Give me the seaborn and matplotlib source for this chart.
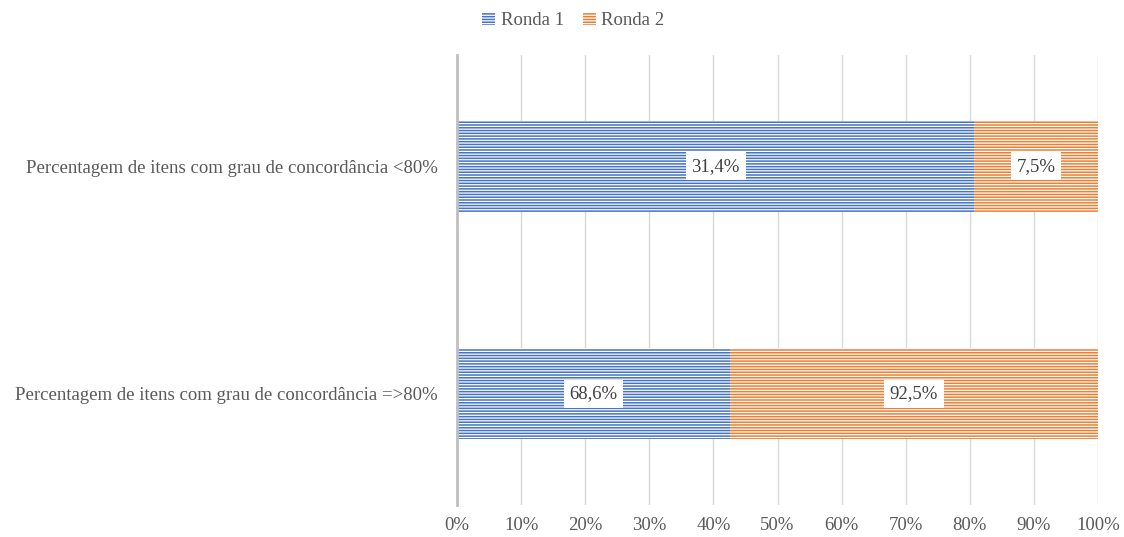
import numpy as np
import pandas as pd
import matplotlib
matplotlib.use("Agg")
import matplotlib.pyplot as plt
from matplotlib.patches import Patch
import seaborn as sns

# data (data labels show the raw values; bars are stacked to 100%)
categories = [
    "Percentagem de itens com grau de concordância <80%",
    "Percentagem de itens com grau de concordância =>80%",
]
ronda1 = [31.4, 68.6]
ronda2 = [7.5, 92.5]
series_names = ["Ronda 1", "Ronda 2"]
xticks = [0, 10, 20, 30, 40, 50, 60, 70, 80, 90, 100]

blue = "#4472C4"
orange = "#ED7D31"

sns.set_theme(style="white")
plt.rcParams["font.family"] = ["Liberation Serif", "DejaVu Serif"]
plt.rcParams["hatch.linewidth"] = 0.9

r1 = np.array(ronda1)
r2 = np.array(ronda2)
tot = r1 + r2
df = pd.DataFrame({
    "cat": categories,
    "share1": r1 / tot * 100,
    "total": np.full(len(categories), 100.0),
})

fig = plt.figure(figsize=(11.24, 5.37), dpi=100)
ax = fig.add_axes([0.4066, 0.0596, 0.5703, 0.838])

# orange = full bar, blue drawn over it
sns.barplot(data=df, y="cat", x="total", color=orange, width=0.4,
            saturation=1, ax=ax, orient="h")
sns.barplot(data=df, y="cat", x="share1", color=blue, width=0.4,
            saturation=1, ax=ax, orient="h")

for p in ax.patches:
    p.set_edgecolor("white")
    p.set_linewidth(0)
    p.set_hatch("------")

fs = 13.5

# data labels
for i in range(len(categories)):
    s1 = df["share1"][i]
    for xc, txt in [(s1 / 2, f"{ronda1[i]:.1f}%".replace(".", ",")),
                    ((s1 + 100) / 2, f"{ronda2[i]:.1f}%".replace(".", ","))]:
        ax.text(xc, i, txt, ha="center", va="center", fontsize=fs,
                color="#404040",
                bbox=dict(facecolor="white", edgecolor="none", pad=4))

ax.set_xlim(0, 100)
ax.set_ylim(1.49, -0.49)
ax.set_xticks(xticks)
ax.set_xticklabels([f"{t}%" for t in xticks], fontsize=fs, color="#595959")
ax.tick_params(axis="y", labelsize=fs, labelcolor="#595959", length=0, pad=14)
ax.tick_params(axis="x", length=0, pad=9)
ax.set_xlabel("")
ax.set_ylabel("")
ax.xaxis.grid(True, color="#D9D9D9", linewidth=1)
ax.set_axisbelow(True)
for s in ["top", "right", "bottom"]:
    ax.spines[s].set_visible(False)
ax.spines["left"].set_color("#BFBFBF")
ax.spines["left"].set_linewidth(2)

handles = [Patch(facecolor=blue, edgecolor="white", linewidth=0, hatch="------"),
           Patch(facecolor=orange, edgecolor="white", linewidth=0, hatch="------")]
fig.legend(handles, series_names, loc="upper center", bbox_to_anchor=(0.51, 1.01),
           ncol=2, frameon=False, fontsize=fs, handlelength=0.7, handleheight=0.7,
           handletextpad=0.3, columnspacing=1.0, labelcolor="#595959")

fig.savefig("out.png", dpi=100)
